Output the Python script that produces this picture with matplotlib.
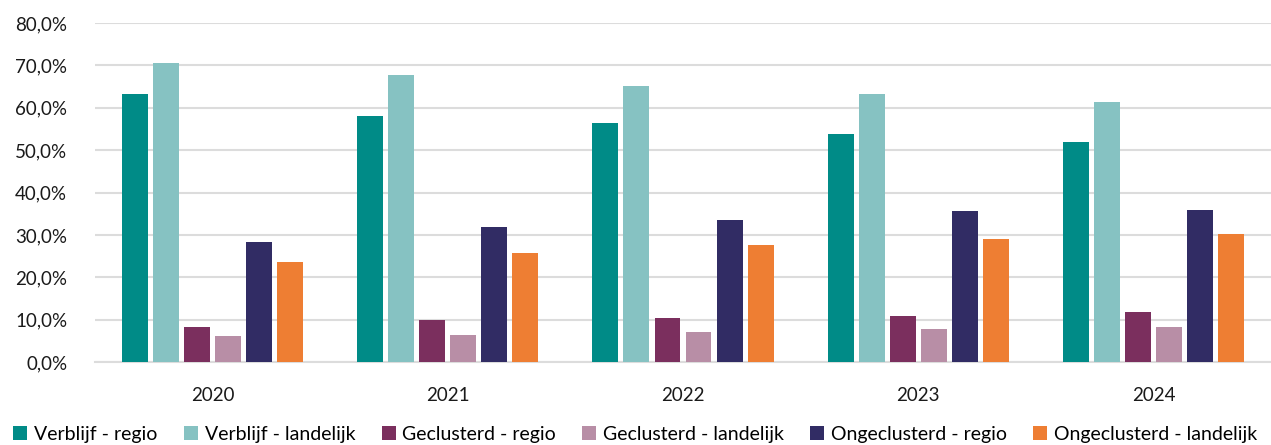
import numpy as np
from matplotlib import pyplot as plt
from matplotlib.ticker import FuncFormatter

plt.rcParams['font.family'] = ['Lato', 'DejaVu Sans']

years = ['2020', '2021', '2022', '2023', '2024']
series = ['Verblijf - regio', 'Verblijf - landelijk', 'Geclusterd - regio',
          'Geclusterd - landelijk', 'Ongeclusterd - regio', 'Ongeclusterd - landelijk']
verblijf_regio = [63.2, 58.0, 56.4, 53.8, 51.9]
verblijf_landelijk = [70.5, 67.7, 65.1, 63.2, 61.3]
geclusterd_regio = [8.3, 9.9, 10.4, 10.8, 11.8]
geclusterd_landelijk = [6.1, 6.4, 7.1, 7.8, 8.3]
ongeclusterd_regio = [28.3, 31.8, 33.5, 35.6, 35.8]
ongeclusterd_landelijk = [23.6, 25.7, 27.6, 29.0, 30.2]
colors = ['#008B87', '#86C2C2', '#7B2F5E', '#B88EA6', '#312C64', '#EE7E33']

values = [verblijf_regio, verblijf_landelijk, geclusterd_regio,
          geclusterd_landelijk, ongeclusterd_regio, ongeclusterd_landelijk]

fig = plt.figure(figsize=(12.71, 4.45), dpi=100)
ax = fig.add_axes([95 / 1271, 1 - 362 / 445, 1 - 95 / 1271, (362 - 23) / 445])

x = np.arange(len(years))
slot = 0.132
width = 0.11
for i, (name, vals, c) in enumerate(zip(series, values, colors)):
    ax.bar(x + (i - 2.5) * slot, vals, width=width, color=c, label=name, zorder=3)

ax.set_xlim(-0.5, 4.5)
ax.set_ylim(0, 80)
ax.set_yticks(np.arange(0, 81, 10))
ax.yaxis.set_major_formatter(FuncFormatter(lambda v, p: f'{v:.1f}%'.replace('.', ',')))
ax.set_xticks(x)
ax.set_xticklabels(years)
ax.grid(axis='y', color='#dcdcdc', linewidth=1.5, zorder=0)
for s in ['top', 'right', 'left']:
    ax.spines[s].set_visible(False)
ax.spines['bottom'].set_color('#dcdcdc')
ax.spines['bottom'].set_linewidth(1.5)
ax.tick_params(axis='both', length=0, labelsize=13.5, colors='#1a1a1a')
ax.tick_params(axis='x', pad=18)
ax.tick_params(axis='y', pad=20)

fig.legend(loc='lower center', bbox_to_anchor=(0.5, -0.035), ncol=6, frameon=False,
           fontsize=14, handlelength=0.72, handleheight=0.75, handletextpad=0.35,
           columnspacing=1.35)

fig.savefig('out.png', dpi=100)
